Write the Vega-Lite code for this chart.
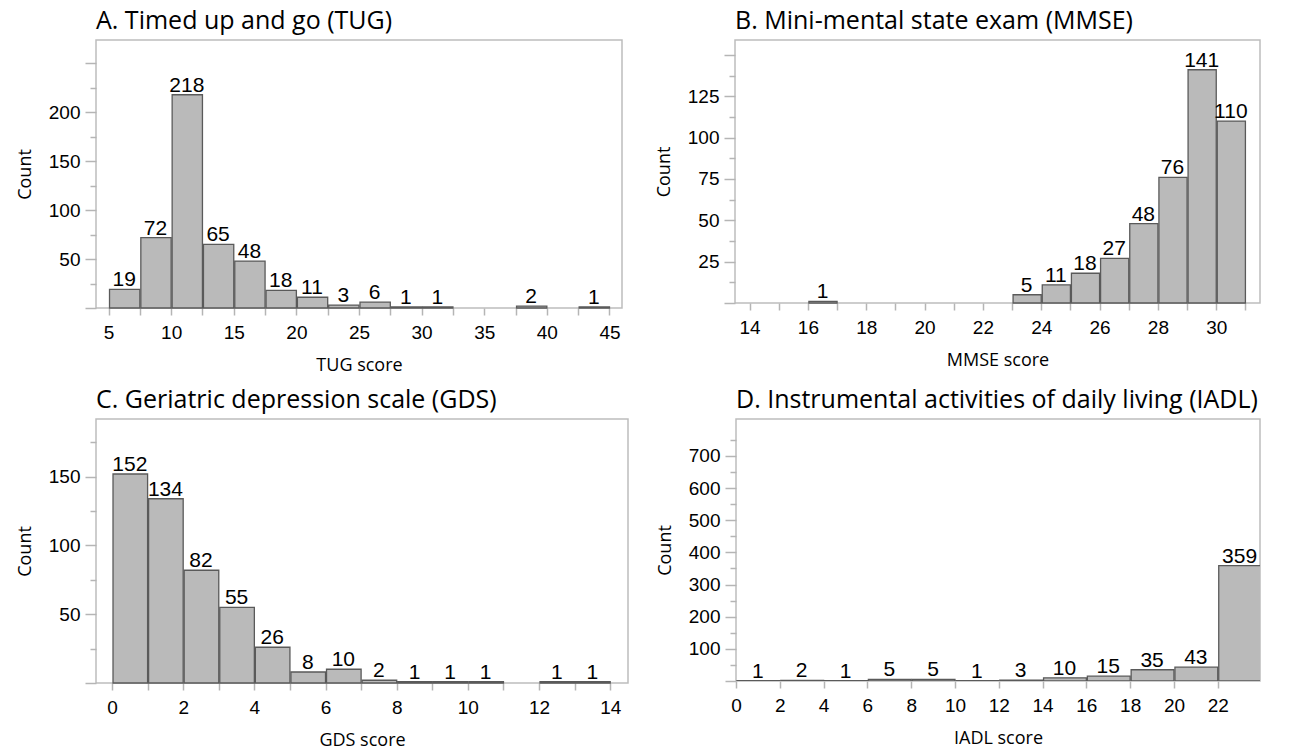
{
  "$schema": "https://vega.github.io/schema/vega-lite/v6.json",
  "padding": {"left": 15, "top": 8, "right": 5, "bottom": 5},
  "background": "white",
  "datasets": {
    "tug": [
      {"start": 5, "end": 7.5, "count": 19},
      {"start": 7.5, "end": 10, "count": 72},
      {"start": 10, "end": 12.5, "count": 218},
      {"start": 12.5, "end": 15, "count": 65},
      {"start": 15, "end": 17.5, "count": 48},
      {"start": 17.5, "end": 20, "count": 18},
      {"start": 20, "end": 22.5, "count": 11},
      {"start": 22.5, "end": 25, "count": 3},
      {"start": 25, "end": 27.5, "count": 6},
      {"start": 27.5, "end": 30, "count": 1},
      {"start": 30, "end": 32.5, "count": 1},
      {"start": 37.5, "end": 40, "count": 2},
      {"start": 42.5, "end": 45, "count": 1}
    ],
    "mmse": [
      {"start": 16, "end": 17, "count": 1},
      {"start": 23, "end": 24, "count": 5},
      {"start": 24, "end": 25, "count": 11},
      {"start": 25, "end": 26, "count": 18},
      {"start": 26, "end": 27, "count": 27},
      {"start": 27, "end": 28, "count": 48},
      {"start": 28, "end": 29, "count": 76},
      {"start": 29, "end": 30, "count": 141},
      {"start": 30, "end": 31, "count": 110}
    ],
    "gds": [
      {"start": 0, "end": 1, "count": 152},
      {"start": 1, "end": 2, "count": 134},
      {"start": 2, "end": 3, "count": 82},
      {"start": 3, "end": 4, "count": 55},
      {"start": 4, "end": 5, "count": 26},
      {"start": 5, "end": 6, "count": 8},
      {"start": 6, "end": 7, "count": 10},
      {"start": 7, "end": 8, "count": 2},
      {"start": 8, "end": 9, "count": 1},
      {"start": 9, "end": 10, "count": 1},
      {"start": 10, "end": 11, "count": 1},
      {"start": 12, "end": 13, "count": 1},
      {"start": 13, "end": 14, "count": 1}
    ],
    "iadl": [
      {"start": 0, "end": 2, "count": 1},
      {"start": 2, "end": 4, "count": 2},
      {"start": 4, "end": 6, "count": 1},
      {"start": 6, "end": 8, "count": 5},
      {"start": 8, "end": 10, "count": 5},
      {"start": 10, "end": 12, "count": 1},
      {"start": 12, "end": 14, "count": 3},
      {"start": 14, "end": 16, "count": 10},
      {"start": 16, "end": 18, "count": 15},
      {"start": 18, "end": 20, "count": 35},
      {"start": 20, "end": 22, "count": 43},
      {"start": 22, "end": 24, "count": 359}
    ]
  },
  "vconcat": [
    {
      "spacing": 31,
      "hconcat": [
        {
          "title": "A. Timed up and go (TUG)",
          "width": 526, "height": 268,
          "data": {"name": "tug"},
          "encoding": {
            "x": {"field": "start", "type": "quantitative", "bin": "binned",
              "scale": {"domain": [4, 46]},
              "axis": {"title": "TUG score", "values": [5, 7.5, 10, 12.5, 15, 17.5, 20, 22.5, 25, 27.5, 30, 32.5, 35, 37.5, 40, 42.5, 45],
                "labelExpr": "datum.value % 5 === 0 ? datum.label : ''"}},
            "y": {"field": "count", "type": "quantitative",
              "scale": {"domain": [0, 274]},
              "axis": {"title": "Count", "values": [0, 25, 50, 75, 100, 125, 150, 175, 200, 225, 250],
                "labelExpr": "datum.value >= 50 && datum.value <= 200 && datum.value % 50 === 0 ? datum.label : ''",
                "tickSize": {"condition": {"test": "datum.value % 50 === 0", "value": 11}, "value": 6}}}
          },
          "layer": [
            {"mark": {"type": "bar", "fill": "#bababa", "stroke": "#5a5a5a", "strokeWidth": 1.3},
              "encoding": {"x2": {"field": "end"}}},
            {"mark": {"type": "text", "font": "Liberation Sans", "fontSize": 21, "baseline": "alphabetic", "dy": -3, "dx": 15.65, "color": "black"},
              "encoding": {"text": {"field": "count", "type": "quantitative"}}}
          ]
        },
        {
          "title": "B. Mini-mental state exam (MMSE)",
          "width": 525, "height": 263,
          "data": {"name": "mmse"},
          "encoding": {
            "x": {"field": "start", "type": "quantitative", "bin": "binned",
              "scale": {"domain": [13.5, 31.5]},
              "axis": {"title": "MMSE score", "values": [14, 15, 16, 17, 18, 19, 20, 21, 22, 23, 24, 25, 26, 27, 28, 29, 30, 31],
                "labelExpr": "datum.value % 2 === 0 ? datum.label : ''"}},
            "y": {"field": "count", "type": "quantitative",
              "scale": {"domain": [0, 159]},
              "axis": {"title": "Count", "values": [0, 12.5, 25, 37.5, 50, 62.5, 75, 87.5, 100, 112.5, 125, 137.5, 150],
                "labelExpr": "datum.value >= 25 && datum.value <= 125 && datum.value % 25 === 0 ? datum.label : ''",
                "tickSize": {"condition": {"test": "datum.value % 25 === 0", "value": 11}, "value": 6}}}
          },
          "layer": [
            {"mark": {"type": "bar", "fill": "#bababa", "stroke": "#5a5a5a", "strokeWidth": 1.3},
              "encoding": {"x2": {"field": "end"}}},
            {"mark": {"type": "text", "font": "Liberation Sans", "fontSize": 21, "baseline": "alphabetic", "dy": -3, "dx": 14.6, "color": "black"},
              "encoding": {"text": {"field": "count", "type": "quantitative"}}}
          ]
        }
      ]
    },
    {
      "spacing": 26,
      "hconcat": [
        {
          "title": "C. Geriatric depression scale (GDS)",
          "width": 532, "height": 264,
          "data": {"name": "gds"},
          "encoding": {
            "x": {"field": "start", "type": "quantitative", "bin": "binned",
              "scale": {"domain": [-0.45, 14.5]},
              "axis": {"title": "GDS score", "values": [0, 1, 2, 3, 4, 5, 6, 7, 8, 9, 10, 11, 12, 13, 14],
                "labelExpr": "datum.value % 2 === 0 ? datum.label : ''"}},
            "y": {"field": "count", "type": "quantitative",
              "scale": {"domain": [0, 192]},
              "axis": {"title": "Count", "values": [0, 25, 50, 75, 100, 125, 150, 175],
                "labelExpr": "datum.value >= 50 && datum.value <= 150 && datum.value % 50 === 0 ? datum.label : ''",
                "tickSize": {"condition": {"test": "datum.value % 50 === 0", "value": 11}, "value": 6}}}
          },
          "layer": [
            {"mark": {"type": "bar", "fill": "#bababa", "stroke": "#5a5a5a", "strokeWidth": 1.3},
              "encoding": {"x2": {"field": "end"}}},
            {"mark": {"type": "text", "font": "Liberation Sans", "fontSize": 21, "baseline": "alphabetic", "dy": -3, "dx": 17.8, "color": "black"},
              "encoding": {"text": {"field": "count", "type": "quantitative"}}}
          ]
        },
        {
          "title": "D. Instrumental activities of daily living (IADL)",
          "width": 524, "height": 262,
          "data": {"name": "iadl"},
          "encoding": {
            "x": {"field": "start", "type": "quantitative", "bin": "binned",
              "scale": {"domain": [0, 23.93]},
              "axis": {"title": "IADL score", "values": [0, 2, 4, 6, 8, 10, 12, 14, 16, 18, 20, 22]}},
            "y": {"field": "count", "type": "quantitative",
              "scale": {"domain": [0, 815]},
              "axis": {"title": "Count", "values": [0, 50, 100, 150, 200, 250, 300, 350, 400, 450, 500, 550, 600, 650, 700, 750],
                "labelExpr": "datum.value >= 100 && datum.value <= 700 && datum.value % 100 === 0 ? datum.label : ''",
                "tickSize": {"condition": {"test": "datum.value % 100 === 0", "value": 11}, "value": 6}}}
          },
          "layer": [
            {"mark": {"type": "bar", "fill": "#bababa", "stroke": "#5a5a5a", "strokeWidth": 1.3, "clip": true},
              "encoding": {"x2": {"field": "end"}}},
            {"mark": {"type": "text", "font": "Liberation Sans", "fontSize": 21, "baseline": "alphabetic", "dy": -3, "dx": 21.9, "color": "black"},
              "encoding": {"text": {"field": "count", "type": "quantitative"}}}
          ]
        }
      ]
    }
  ],
  "spacing": 12,
  "config": {
    "view": {"stroke": "#bdbdbd", "strokeWidth": 1.5},
    "axis": {
      "domain": false, "grid": false, "tickColor": "#b5b5b5", "tickWidth": 1.5,
      "labelFont": "Liberation Sans", "labelFontSize": 19, "labelColor": "black",
      "labelOverlap": false, "labelFlush": false,
      "titleFont": "Open Sans", "titleFontSize": 18, "titleFontWeight": "normal", "titleColor": "black"
    },
    "axisX": {"tickSize": 7, "labelPadding": 8, "titlePadding": 14},
    "axisY": {"labelPadding": 5, "titlePadding": 14},
    "title": {"font": "Open Sans", "fontSize": 25, "fontWeight": "normal", "anchor": "start", "frame": "group", "baseline": "alphabetic", "color": "black", "offset": 6}
  }
}
